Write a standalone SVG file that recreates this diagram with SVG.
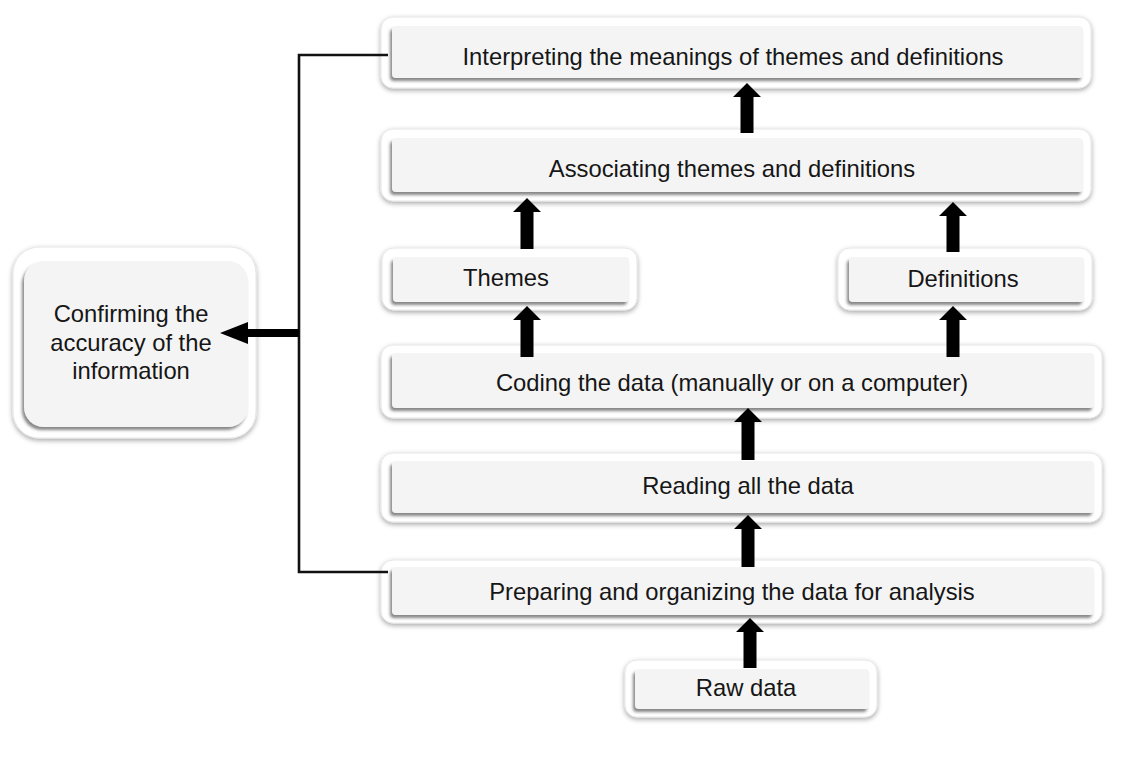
<svg xmlns="http://www.w3.org/2000/svg" width="1121" height="760" viewBox="0 0 1121 760">
<defs>
<filter id="outerShadow" x="-10%" y="-30%" width="120%" height="160%">
<feDropShadow dx="0" dy="2" stdDeviation="2.5" flood-color="#000" flood-opacity="0.35"/>
</filter>
<filter id="innerShadow" x="-10%" y="-30%" width="120%" height="160%">
<feDropShadow dx="-2" dy="3" stdDeviation="1.4" flood-color="#444" flood-opacity="0.65"/>
</filter>
</defs>
<style>
.outer{fill:#ffffff;stroke:#e6e6e6;stroke-width:1;filter:url(#outerShadow)}
.inner{fill:#f4f4f4;filter:url(#innerShadow)}
.lbl{font-family:"Liberation Sans",Arial,sans-serif;font-size:23.8px;fill:#161616;text-anchor:middle;dominant-baseline:central}
.arrow{fill:#000}
.line{fill:none;stroke:#111;stroke-width:2.6;stroke-linejoin:miter}
</style>
<rect width="1121" height="760" fill="#ffffff"/>

<g id="node-interpreting">
<rect class="outer" x="381" y="17" width="710" height="71" rx="12"/>
<rect class="inner" x="392" y="26" width="691" height="52" rx="4"/>
<text class="lbl" x="733" y="56">Interpreting the meanings of themes and definitions</text>
</g>

<g id="node-associating">
<rect class="outer" x="381" y="129" width="710" height="72" rx="12"/>
<rect class="inner" x="392" y="138" width="691" height="54" rx="4"/>
<text class="lbl" x="732" y="168">Associating themes and definitions</text>
</g>

<g id="node-themes">
<rect class="outer" x="382" y="248" width="255" height="62" rx="12"/>
<rect class="inner" x="393" y="257" width="236" height="45" rx="4"/>
<text class="lbl" x="506" y="277">Themes</text>
</g>

<g id="node-definitions">
<rect class="outer" x="838" y="248" width="254" height="62" rx="12"/>
<rect class="inner" x="849" y="257" width="235" height="45" rx="4"/>
<text class="lbl" x="963" y="278">Definitions</text>
</g>

<g id="node-coding">
<rect class="outer" x="381" y="345" width="721" height="73" rx="12"/>
<rect class="inner" x="392" y="353" width="702" height="55" rx="4"/>
<text class="lbl" x="732" y="382">Coding the data (manually or on a computer)</text>
</g>

<g id="node-reading">
<rect class="outer" x="381" y="453" width="721" height="69" rx="12"/>
<rect class="inner" x="392" y="461" width="702" height="52" rx="4"/>
<text class="lbl" x="748" y="485">Reading all the data</text>
</g>

<g id="node-preparing">
<rect class="outer" x="381" y="560" width="721" height="63" rx="12"/>
<rect class="inner" x="392" y="567" width="702" height="48" rx="4"/>
<text class="lbl" x="732" y="591">Preparing and organizing the data for analysis</text>
</g>

<g id="node-raw">
<rect class="outer" x="625" y="660" width="252" height="57" rx="12"/>
<rect class="inner" x="635" y="669" width="234" height="40" rx="4"/>
<text class="lbl" x="746" y="687">Raw data</text>
</g>

<g id="node-confirming">
<rect class="outer" x="13" y="247" width="243" height="191" rx="26"/>
<rect class="inner" x="24" y="261" width="224" height="166" rx="20"/>
<text class="lbl" x="131" y="313">Confirming the</text>
<text class="lbl" x="131" y="342">accuracy of the</text>
<text class="lbl" x="131" y="370">information</text>
</g>

<g id="connectors">
<path class="line" d="M388,55 H299 V572 H388"/>
<polygon class="arrow" points="299,329 248,329 248,322 220,333 248,344 248,337 299,337"/>
<polygon class="arrow" points="740.5,133 740.5,97 733,97 747,83 761,97 753.5,97 753.5,133"/>
<polygon class="arrow" points="520.5,249 520.5,212 513,212 527,198 541,212 533.5,212 533.5,249"/>
<polygon class="arrow" points="946.5,252 946.5,216 939,216 953,202 967,216 959.5,216 959.5,252"/>
<polygon class="arrow" points="520.5,357 520.5,320 513,320 527,306 541,320 533.5,320 533.5,357"/>
<polygon class="arrow" points="946.5,357 946.5,320 939,320 953,306 967,320 959.5,320 959.5,357"/>
<polygon class="arrow" points="741.5,460 741.5,422 734,422 748,408 762,422 754.5,422 754.5,460"/>
<polygon class="arrow" points="741.5,567 741.5,529 734,529 748,515 762,529 754.5,529 754.5,567"/>
<polygon class="arrow" points="743.5,668 743.5,632 736,632 750,618 764,632 756.5,632 756.5,668"/>
</g>
</svg>
